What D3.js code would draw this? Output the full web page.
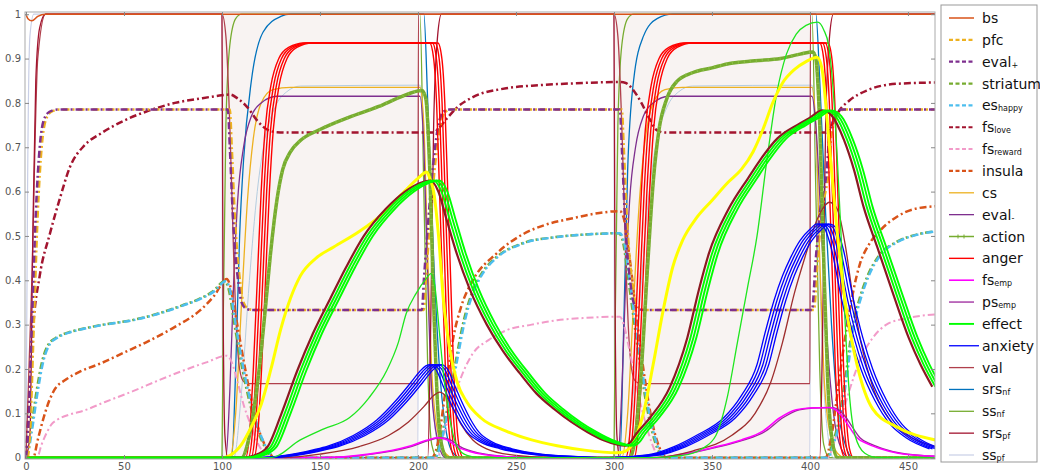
<!DOCTYPE html>
<html>
<head>
<meta charset="utf-8">
<script src="https://cdn.jsdelivr.net/npm/d3@7"></script>
<style>
  body { margin: 0; background: #fff; }
  svg { display: block; }
  .axis text { font-family: "DejaVu Sans", sans-serif; font-size: 10px; fill: #555; }
</style>
</head>
<body>
<svg id="chart" width="1040" height="471"></svg>
<script>
// ---- data: [time, value] ----
var xTicks = [0, 50, 100, 150, 200, 250, 300, 350, 400, 450];
var yTicks = [0, 0.1, 0.2, 0.3, 0.4, 0.5, 0.6, 0.7, 0.8, 0.9, 1];
var stimulusPeriods = [[100, 200], [300, 400]];

var bs = [[0,1],[1,0.99],[3,0.985],[6,0.995],[10,1],[464,1]];

var evalPlus = [[0,0],[1,0.05],[3,0.3],[5,0.55],[7,0.7],[9,0.76],[12,0.78],[16,0.785],[103,0.785],[104,0.7],[105.5,0.55],[107,0.45],[108.5,0.39],[110,0.35],[112,0.337],[115,0.333],
  [202,0.333],[203,0.4],[205,0.52],[207.5,0.65],[210,0.74],[213,0.78],[216,0.785],[303,0.785],[304,0.7],[305.5,0.55],[307,0.45],[308.5,0.39],[310,0.35],[312,0.337],[315,0.333],
  [401,0.333],[403,0.45],[405,0.55],[408.6,0.65],[410,0.73],[413,0.77],[416,0.785],[464,0.785]];
var pfcShift = 1;

var fsLove = [[0,0],[1.5,0.12],[3.6,0.29],[7,0.41],[12.2,0.505],[17,0.58],[22.4,0.655],[30,0.705],[37.8,0.73],[50,0.76],[63,0.783],[76,0.8],[89,0.81],[98,0.816],[104,0.819],[108,0.81],[113,0.79],[118,0.76],[123,0.74],[128,0.734],[135,0.733],
  [208,0.733],[210,0.74],[214.8,0.765],[220,0.79],[228,0.813],[245,0.833],[262,0.84],[279,0.844],[303,0.847],[306,0.845],[310,0.828],[314,0.8],[318,0.765],[322,0.738],[326,0.733],
  [408,0.733],[411,0.75],[415,0.783],[420,0.805],[429,0.828],[444,0.843],[464,0.846]];

var esHappy = [[0,0],[1,0.01],[3,0.06],[6,0.15],[9,0.22],[12,0.255],[15.8,0.27],[22,0.282],[29,0.29],[40,0.3],[54.6,0.31],[68,0.325],[80,0.343],[90,0.36],[96,0.375],[102,0.398],[104,0.38],[107,0.3],[111,0.2],[115,0.12],[119,0.06],[123,0.02],[127,0],
  [209,0],[212,0.04],[216,0.12],[220,0.22],[224,0.31],[228,0.37],[233,0.415],[240,0.45],[253.6,0.483],[270,0.497],[285,0.503],[303,0.506],[305,0.49],[308,0.4],[312,0.27],[316,0.15],[320,0.06],[324,0.01],[327,0],
  [409,0],[412,0.03],[416,0.1],[419,0.19],[422,0.287],[426,0.36],[430,0.41],[435.7,0.455],[445,0.487],[455,0.503],[464,0.51]];
var striatumShift = -0.6;

var insula = [[0,0],[3.7,0],[6,0.04],[9,0.09],[12,0.13],[14.8,0.155],[20,0.175],[28,0.195],[37.8,0.212],[50,0.237],[63,0.264],[76,0.295],[88.8,0.332],[96,0.365],[102.5,0.403],[104,0.39],[107,0.32],[111,0.22],[115,0.13],[119,0.06],[123,0.02],[127,0],
  [207,0],[210,0.03],[214,0.15],[218,0.27],[222,0.34],[228,0.4],[240,0.46],[254,0.505],[265,0.525],[279,0.54],[290,0.55],[303,0.556],[305,0.54],[308,0.45],[312,0.3],[316,0.17],[320,0.07],[324,0.015],[327,0],
  [408,0],[411,0.05],[415,0.18],[419,0.3],[425.5,0.437],[430,0.48],[435.7,0.512],[445,0.545],[452.6,0.56],[464,0.567]];

var fsReward = [[0,0],[5.6,0],[8,0.03],[11,0.06],[13,0.075],[15.8,0.085],[22,0.097],[29.4,0.106],[40,0.125],[54.6,0.15],[68,0.175],[80,0.196],[92,0.215],[102.5,0.23],[105,0.215],[108,0.17],[111,0.12],[115,0.07],[118,0.035],[122,0.008],[125,0],
  [210,0],[213,0.05],[216,0.1],[221,0.17],[228,0.235],[236,0.265],[245,0.287],[258,0.3],[271,0.31],[285,0.315],[303,0.318],[305,0.3],[308,0.24],[312,0.15],[316,0.08],[320,0.025],[323,0],
  [409,0],[412,0.03],[416,0.09],[420,0.15],[425.5,0.22],[432,0.27],[439,0.3],[450,0.315],[464,0.323]];

var cs = [[0,0],[104,0],[107,0.1],[110,0.35],[113,0.58],[116,0.72],[120,0.8],[126,0.83],[135,0.835],[201,0.835],[203,0.75],[205,0.45],[207,0.2],[210,0.06],[214,0.01],[218,0],
  [304,0],[307,0.1],[310,0.35],[313,0.58],[316,0.72],[320,0.8],[326,0.83],[335,0.835],[401,0.835],[403,0.75],[405,0.45],[407,0.2],[410,0.06],[414,0.01],[418,0],[464,0]];

var evalMinus = [[0,0],[102,0],[104,0.15],[106,0.4],[108,0.58],[111,0.7],[115,0.77],[120,0.8],[128,0.815],[201,0.815],[203,0.7],[205,0.4],[207,0.15],[210,0.04],[214,0],
  [302,0],[304,0.15],[306,0.4],[308,0.58],[311,0.7],[315,0.77],[320,0.8],[328,0.815],[401,0.815],[403,0.75],[406,0.5],[409,0.25],[412,0.1],[416,0.02],[420,0],[464,0]];

var action = [[0,0],[110,0],[113,0.03],[116,0.1],[119,0.2],[122,0.33],[125,0.47],[128,0.58],[131,0.65],[135,0.69],[140,0.715],[150,0.74],[165,0.768],[180,0.792],[191,0.813],[202,0.828],[204,0.81],[206,0.65],[208,0.35],[210,0.12],[212,0.03],[215,0],
  [308,0],[311,0.05],[314,0.2],[317,0.42],[320,0.62],[323,0.74],[327,0.81],[332,0.848],[340,0.868],[350,0.879],[359,0.889],[372,0.895],[385,0.9],[395,0.91],[401.5,0.915],[403,0.9],[405,0.75],[407,0.45],[409,0.18],[411,0.05],[414,0],[464,0]];

var anger = [[0,0],[112,0],[114,0.05],[116,0.2],[118,0.4],[120,0.6],[122,0.74],[125,0.84],[129,0.9],[134,0.925],[142,0.935],[206,0.935],[208,0.9],[209.5,0.8],[211,0.6],[212.5,0.4],[214,0.2],[215.5,0.08],[217,0.02],[219,0],
  [306,0],[308,0.05],[310,0.2],[312,0.4],[314,0.6],[316,0.74],[319,0.84],[323,0.9],[328,0.925],[336,0.935],[405,0.935],[407,0.9],[408.5,0.8],[410,0.6],[411.5,0.4],[413,0.2],[414.5,0.08],[416,0.02],[418,0],[464,0]];
var angerShifts = [0, 1.4, 2.8, 4.2];

var fsEmp = [[0,0],[150,0],[175,0.008],[195,0.025],[205,0.04],[210,0.045],[215,0.04],[220,0.025],[230,0.01],[245,0.002],[260,0],[320,0],[335,0.008],[350.5,0.023],[365,0.04],[376,0.06],[384.7,0.09],[393,0.108],[400,0.112],[410,0.113],[414,0.105],[417,0.09],[420,0.07],[424,0.045],[430,0.03],[436,0.02],[445,0.01],[464,0.003]];
var psEmpShift = 1.5;

var effect = [[0,0],[112,0],[118,0.005],[124.6,0.023],[132,0.1],[140,0.196],[148,0.28],[157,0.36],[165,0.43],[174,0.5],[185,0.56],[195,0.6],[203,0.62],[208,0.625],[212,0.6],[216,0.54],[221.4,0.46],[228,0.38],[236.7,0.3],[245,0.24],[253.6,0.19],[262,0.145],[271,0.11],[280,0.08],[288,0.058],[296,0.04],[303,0.03],[307,0.027],[310,0.035],[313,0.054],[320,0.09],[330,0.158],[339,0.27],[345,0.38],[350,0.46],[360,0.56],[370,0.63],[376,0.67],[385,0.72],[395,0.75],[401,0.765],[408,0.783],[413,0.77],[419,0.716],[424,0.65],[429,0.565],[436,0.474],[444,0.37],[452,0.27],[458,0.21],[464,0.16]];
var effectShifts = [0, 1.5, 3];
var effectTwinShift = -1.6;

var effectThin = [[0,0],[125,0],[140,0.04],[152,0.065],[165,0.09],[175,0.135],[184,0.196],[190,0.26],[194,0.325],[199,0.37],[204.6,0.406],[206.5,0.415],[208.5,0.39],[211,0.28],[213,0.19],[214.7,0.13],[217,0.07],[220,0.025],[225,0.005],[232,0],
  [318,0],[335,0.005],[345,0.02],[352,0.05],[358,0.14],[363,0.26],[368,0.38],[373,0.5],[378,0.67],[383,0.82],[388,0.91],[393,0.955],[398,0.975],[404,0.982],[407,0.965],[409.5,0.93],[412,0.82],[414,0.67],[416,0.49],[418,0.3],[420,0.15],[423,0.05],[428,0.01],[435,0],[464,0]];

var yellowLine = [[0,0],[100,0],[104,0.005],[110,0.03],[115,0.07],[120,0.12],[125,0.2],[130,0.29],[135,0.36],[140,0.41],[148,0.45],[157,0.475],[170,0.51],[182,0.55],[193,0.6],[200,0.63],[204.5,0.644],[206,0.63],[208,0.6],[210.5,0.5],[213,0.354],[216,0.25],[220,0.17],[225,0.125],[232,0.09],[245,0.06],[258,0.04],[271,0.027],[285,0.017],[301.5,0.011],[306,0.015],
  [310,0.035],[315,0.1],[320,0.21],[325,0.33],[330,0.43],[335,0.49],[342,0.54],[350,0.58],[358,0.62],[365,0.65],[371,0.69],[376,0.74],[381,0.8],[386,0.845],[392,0.875],[398,0.893],[403.6,0.903],[406,0.88],[409,0.75],[413,0.55],[418,0.35],[424,0.21],[432,0.11],[444,0.07],[464,0.04]];

var anxiety = [[0,0],[120,0],[135,0.005],[150,0.018],[157,0.026],[170,0.05],[182,0.085],[192,0.13],[199.5,0.17],[204,0.195],[207,0.207],[209,0.21],[212,0.2],[216,0.16],[220,0.12],[224,0.085],[228,0.058],[235,0.035],[245,0.02],[260,0.008],[280,0.002],[300,0],[320,0.006],[333.7,0.025],[345,0.05],[359,0.09],[368,0.14],[376,0.21],[380,0.28],[384.7,0.355],[389,0.41],[393,0.45],[398,0.49],[403,0.515],[406.6,0.527],[410,0.52],[414,0.47],[419,0.36],[424,0.27],[429,0.2],[436,0.13],[444,0.075],[452,0.045],[464,0.02]];
var anxietyShifts = [-3, -1.5, 0, 1.5, 3];

var brownPeak = [[0,0],[130,0],[150,0.008],[170,0.025],[185,0.05],[195,0.08],[203,0.115],[208,0.14],[211,0.148],[214,0.14],[218,0.11],[222,0.075],[228,0.04],[235,0.02],[250,0.005],[270,0],[320,0],[340,0.015],[360,0.05],[372,0.1],[380,0.17],[386,0.26],[392,0.37],[398,0.46],[403,0.53],[407,0.565],[410,0.576],[414,0.56],[418,0.48],[422,0.36],[426,0.26],[432,0.16],[440,0.09],[450,0.05],[464,0.025]];

var val = [[0,0],[3,0.4],[6,0.9],[10,1],[100,1],[102,0.95],[104,0.75],[106,0.45],[107.5,0.28],[109,0.2],[111,0.172],[114,0.167],[200,0.167],[200.2,1],
  [300,1],[302,0.95],[304,0.75],[306,0.45],[307.5,0.28],[309,0.2],[311,0.172],[314,0.167],[400,0.167],[400.2,1],[464,1]];

var srsNf = [[0,0],[105,0],[107,0.2],[109,0.5],[111,0.67],[115,0.85],[121,0.96],[130,0.995],[135,1],[203,1],[205,0.8],[208,0.45],[211,0.2],[214,0.07],[218,0.01],[222,0],
  [303,0],[305,0.3],[307,0.65],[310,0.85],[315,0.95],[322,0.99],[330,1],[403,1],[405,0.85],[408,0.55],[411,0.3],[414,0.12],[418,0.03],[422,0],[464,0]];

var ssNf = [[0,0],[100,0],[100.6,0.3],[102,0.75],[104,0.93],[107,0.99],[110,1],[201,1],[203,0.6],[205,0.2],[207,0.03],[210,0],
  [300,0],[300.6,0.3],[302,0.75],[304,0.93],[307,0.99],[310,1],[401,1],[403,0.6],[405,0.2],[407,0.03],[410,0],[464,0]];

var srsPf = [[0,0],[2,0.05],[3.5,0.5],[5,0.85],[7,0.97],[10,1],[100,1],[100.5,0.4],[101.5,0.05],[103,0],[205,0],[206.5,0.3],[208,0.75],[210,0.95],[212,1],
  [300,1],[300.5,0.4],[301.5,0.05],[303,0],[405,0],[406.5,0.3],[408,0.75],[410,0.95],[412,1],[464,1]];

var ssPf = [[0,0],[0.8,0.6],[2,0.95],[4,1],[100,1],[100.3,0],[200,0],[200.3,1],[300,1],[300.3,0],[400,0],[400.3,1],[464,1]];

var csShadow = [[0,0],[106,0],[110,0.15],[114,0.4],[118,0.6],[122,0.72],[127,0.79],[133,0.825],[140,0.838],[201,0.84],[203,0.7],[205,0.4],[208,0.1],[212,0],
  [306,0],[310,0.15],[314,0.4],[318,0.6],[322,0.72],[327,0.79],[333,0.825],[340,0.838],[401,0.84],[403,0.7],[405,0.4],[408,0.1],[412,0],[464,0]];

var legendLabels = [["bs",""],["pfc",""],["eval","+"],["striatum",""],["es","happy"],["fs","love"],["fs","reward"],["insula",""],["cs",""],["eval","-"],["action",""],["anger",""],["fs","emp"],["ps","emp"],["effect",""],["anxiety",""],["val",""],["srs","nf"],["ss","nf"],["srs","pf"],["ss","pf"]];

// ---- styles ----
var DASH = "7,3,2,3";
var styles = {
  bs:       {color: "#d95319", w: 1.5},
  pfc:      {color: "#edb120", w: 2.5, dash: DASH},
  evalPlus: {color: "#7e2f8e", w: 2.5, dash: DASH},
  striatum: {color: "#77ac30", w: 2.5, dash: DASH},
  esHappy:  {color: "#4dbeee", w: 2.5, dash: DASH},
  fsLove:   {color: "#a2142f", w: 2.5, dash: DASH},
  fsReward: {color: "#f29bc9", w: 2, dash: DASH},
  insula:   {color: "#d95319", w: 2.5, dash: DASH},
  cs:       {color: "#edb120", w: 1.3},
  evalMinus:{color: "#7e2f8e", w: 1.3},
  action:   {color: "#77ac30", w: 3.5},
  anger:    {color: "#ff0000", w: 1.4},
  fsEmp:    {color: "#ff00ff", w: 1.6},
  psEmp:    {color: "#9b259b", w: 1.3},
  effect:   {color: "#00ff00", w: 1.9},
  anxiety:  {color: "#0000ff", w: 1.3},
  val:      {color: "#b0404c", w: 1.3},
  srsNf:    {color: "#0072bd", w: 1.3},
  ssNf:     {color: "#77ac30", w: 1.3},
  srsPf:    {color: "#a2142f", w: 1.3},
  ssPf:     {color: "#c9cfe6", w: 1.2}
};
var legendKeys = ["bs","pfc","evalPlus","striatum","esHappy","fsLove","fsReward","insula","cs","evalMinus","action","anger","fsEmp","psEmp","effect","anxiety","val","srsNf","ssNf","srsPf","ssPf"];

var svg = d3.select("#chart");
var margin = {top: 12, left: 25, right: 105, bottom: 12};
var plotW = 935 - margin.left;
var plotH = 459 - margin.top;

var x = d3.scaleLinear().domain([-0.5, 463.8]).range([0, plotW]);
var y = d3.scaleLinear().domain([-0.003, 1.005]).range([plotH, 0]);

svg.append("defs").append("clipPath")
    .attr("id", "clip")
    .append("rect")
    .attr("width", plotW)
    .attr("height", plotH);

var focus = svg.append("g")
    .attr("transform", "translate(" + margin.left + "," + margin.top + ")");

// stimulus shading
focus.selectAll("rect.shade")
    .data(stimulusPeriods)
    .enter().append("rect")
    .attr("class", "shade")
    .attr("x", function(d) { return x(d[0]); })
    .attr("width", function(d) { return x(d[1]) - x(d[0]); })
    .attr("y", 0)
    .attr("height", plotH)
    .style("fill", "#f8f3f2");

var lines = focus.append("g").attr("clip-path", "url(#clip)");

function draw(data, st, shift) {
    shift = shift || 0;
    var _line = d3.line()
        .curve(d3.curveMonotoneX)
        .x(function(d) { return x(d[0] + shift); })
        .y(function(d) { return y(d[1]); });
    var p = lines.append("path")
        .datum(data)
        .style("fill", "none")
        .style("stroke", st.color)
        .style("stroke-width", st.w)
        .style("stroke-linejoin", "round")
        .attr("d", _line);
    if (st.dash) p.style("stroke-dasharray", st.dash);
    return p;
}

// back to front
draw(ssPf, styles.ssPf);
draw(ssNf, styles.ssNf);
draw(srsNf, styles.srsNf);
draw(csShadow, {color: "#b4cde0", w: 1});
draw(cs, styles.cs);
draw(evalMinus, styles.evalMinus);
draw(val, styles.val);
draw(srsPf, styles.srsPf);
draw(bs, styles.bs);
draw(fsReward, styles.fsReward);
draw(insula, styles.insula);
draw(esHappy, styles.striatum, striatumShift);
draw(esHappy, styles.esHappy);
draw(fsLove, styles.fsLove);
draw(evalPlus, styles.pfc, pfcShift);
draw(evalPlus, styles.evalPlus);
angerShifts.forEach(function(s) { draw(anger, styles.anger, s); });
draw(action, styles.action);
draw(action, {color: "#8cc048", w: 3, dash: "1,5"});
draw(fsEmp, styles.psEmp, psEmpShift);
draw(fsEmp, styles.fsEmp);
draw(brownPeak, {color: "#9e2d2d", w: 1.3});
anxietyShifts.forEach(function(s) { draw(anxiety, styles.anxiety, s); });
draw(effectThin, {color: "#1ee61e", w: 1.3});
draw(yellowLine, {color: "#ffff00", w: 3});
draw(effect, {color: "#8b1a22", w: 2.2}, effectTwinShift);
effectShifts.forEach(function(s) { draw(effect, styles.effect, s); });

// frame and axes
focus.append("rect")
    .attr("width", plotW)
    .attr("height", plotH)
    .style("fill", "none")
    .style("stroke", "#aaa")
    .style("stroke-width", 1);

var xAxis = d3.axisBottom(x).tickValues(xTicks).tickSize(-4).tickPadding(4).tickFormat(d3.format("d"));
var yAxis = d3.axisLeft(y).tickValues(yTicks).tickSize(-4).tickPadding(4).tickFormat(function(d) { return d === 0 || d === 1 ? d : d3.format(".1f")(d); });

focus.append("g")
    .attr("class", "axis axis--x")
    .attr("transform", "translate(0," + plotH + ")")
    .call(xAxis);
focus.append("g")
    .attr("class", "axis axis--y")
    .call(yAxis);
focus.append("g")
    .attr("class", "axis")
    .call(d3.axisTop(x).tickValues(xTicks).tickSize(-4).tickFormat(""));
focus.append("g")
    .attr("class", "axis")
    .attr("transform", "translate(" + plotW + ",0)")
    .call(d3.axisRight(y).tickValues(yTicks).tickSize(-4).tickFormat(""));
focus.selectAll(".axis path").style("stroke", "none");
focus.selectAll(".axis line").style("stroke", "#888");

// legend
var legend = svg.append("g").attr("transform", "translate(941,5)");
legend.append("rect")
    .attr("width", 96)
    .attr("height", 457)
    .style("fill", "#fff")
    .style("stroke", "#999");

var rowH = (455 - 18) / (legendKeys.length - 1);
legendKeys.forEach(function(k, i) {
    var st = styles[k];
    var ly = 13 + i * rowH;
    var g = legend.append("g").attr("transform", "translate(0," + ly + ")");
    g.append("line")
        .attr("x1", 8).attr("x2", k === "anxiety" ? 38 : 33)
        .attr("y1", 0).attr("y2", 0)
        .style("stroke", st.color)
        .style("stroke-width", k === "action" ? 1.5 : Math.min(st.w, 2.2))
        .style("stroke-dasharray", st.dash ? "4,2.5" : null);
    if (k === "action") {
        g.append("line").attr("x1", 17).attr("x2", 17).attr("y1", -2).attr("y2", 2).style("stroke", st.color);
        g.append("line").attr("x1", 23).attr("x2", 23).attr("y1", -2).attr("y2", 2).style("stroke", st.color);
    }
    var t = g.append("text")
        .attr("x", 41)
        .attr("y", 5)
        .style("font-family", "DejaVu Sans, sans-serif")
        .style("font-size", "14px")
        .style("fill", "#111")
        .text(legendLabels[i][0]);
    if (legendLabels[i][1]) {
        t.append("tspan")
            .style("font-size", "8px")
            .attr("dy", 1)
            .text(legendLabels[i][1]);
    }
});
</script>
</body>
</html>
